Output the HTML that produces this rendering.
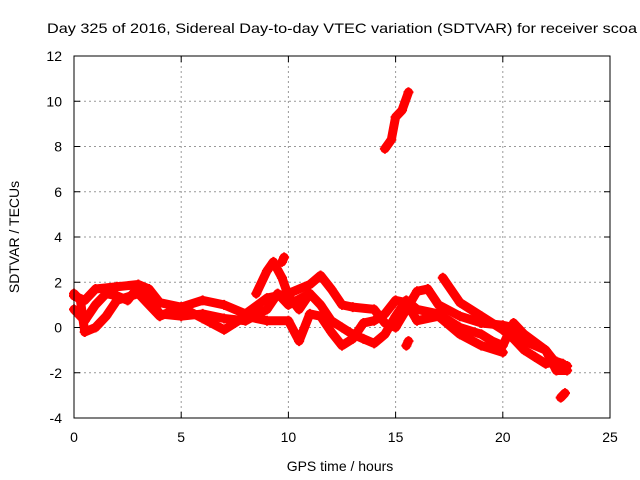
<!DOCTYPE html>
<html><head><meta charset="utf-8"><style>
html,body{margin:0;padding:0;background:#fff;overflow:hidden}
svg{display:block;font-family:"Liberation Sans",sans-serif}
</style></head><body>
<svg id="chart" width="640" height="480">
<text x="47" y="33" font-size="14" textLength="590" lengthAdjust="spacingAndGlyphs" fill="#000">Day 325 of 2016, Sidereal Day-to-day VTEC variation (SDTVAR) for receiver scoa</text>
<g id="grid"></g>
<g id="marks"></g>
<rect x="74" y="56" width="536" height="362" fill="none" stroke="#000" stroke-width="1"/>
<g id="axes"></g>
<text x="340" y="471" font-size="14" text-anchor="middle">GPS time / hours</text>
<text transform="translate(19,237) rotate(-90)" font-size="14" text-anchor="middle">SDTVAR / TECUs</text>
</svg>
<script>
const xTicks=[0,5,10,15,20,25];
const yTicks=[-4,-2,0,2,4,6,8,10,12];
const trackA=[[0,1.4],[0.5,1.2],[1,1.7],[2,1.8],[3,1.9],[3.5,1.7],[4,1.1],[5,0.9],[6,1.2],[7,1.0],[8,0.6],[9,1.3],[10,1.5],[11,1.9],[11.5,2.3],[12,1.7],[12.5,1.0],[13,0.9],[14,0.8],[14.5,0.2],[15,0],[15.5,0.8],[16,1.6],[16.5,1.7],[17,1.0],[18,0.5],[19,0.2],[20,0.1],[20.5,0],[21,-0.6],[22,-1.0],[22.5,-1.6],[23,-1.7]];
const trackB=[[0,0.8],[0.5,0.3],[1,1.0],[1.5,1.5],[2,1.4],[2.5,1.2],[3,1.8],[3.5,1.3],[4,0.6],[5,0.5],[6,0.6],[7,0.4],[8,0.3],[9,0.8],[9.5,1.5],[10,1.0],[11,1.5],[11.5,1.0],[12,0.3],[12.5,0],[13,-0.3],[13.5,-0.5],[14,-0.7],[14.5,-0.3],[15,0.5],[15.5,1.2],[16,0.8],[17,0.6],[18,0.0],[19,-0.3],[19.5,-0.6],[20,-0.8],[20.5,0.2],[21,-0.3],[22,-1.0],[22.5,-1.9],[23,-1.9]];
const trackC=[[0,1.5],[0.3,1.2],[0.5,-0.2],[1,0.0],[1.5,0.5],[2,1.2],[3,1.5],[3.5,1.0],[4,0.5],[5,0.9],[6,0.4],[7,-0.1],[8,0.5],[9,0.3],[10,0.3],[10.5,-0.6],[11,0.6],[11.5,0.5],[12,-0.2],[12.5,-0.8],[13,-0.5],[13.5,0.2],[14,0.3],[14.5,0.6],[15,1.2],[15.5,1.1],[16,0.3],[17,0.5],[18,-0.3],[19,-0.8],[20,-1.1]];
const trackD=[[8.5,1.5],[9,2.5],[9.3,2.9],[9.7,2.2],[10,1.4],[10.5,0.8],[11,1.5]];
const trackE=[[17.2,2.2],[18,1.1],[19,0.5],[20,-0.1],[20.5,-0.5],[21,-1.0],[21.5,-1.3],[22,-1.6],[22.5,-1.5],[22.8,-1.6]];
const trackF=[[14.5,7.9],[14.8,8.3],[15,9.3],[15.3,9.6],[15.6,10.4]];
const trackG=[[15.5,-0.8],[15.6,-0.6]];
const trackH=[[22.7,-3.1],[22.9,-2.9]];
const trackI=[[9.7,2.9],[9.8,3.1]];
const tracks=[trackA,trackB,trackC,trackD,trackE,trackF,trackG,trackH,trackI];
const NS="http://www.w3.org/2000/svg";
const X=h=>74+h*536/25, Y=v=>56+(12-v)*362/16;
const grid=document.getElementById('grid'),axes=document.getElementById('axes'),marks=document.getElementById('marks');
function mk(t,a,p){const e=document.createElementNS(NS,t);for(const k in a)e.setAttribute(k,a[k]);p.appendChild(e);return e;}
xTicks.forEach(t=>{const x=X(t);
 if(t>0&&t<25){const g=mk('line',{x1:x,y1:56,x2:x,y2:418,stroke:'#999','stroke-dasharray':'2,3'},grid);
 
 }
 mk('line',{x1:x,y1:418,x2:x,y2:412,stroke:'#000'},axes);mk('line',{x1:x,y1:56,x2:x,y2:62,stroke:'#000'},axes);
 const l=mk('text',{x:x,y:442,'font-size':14,'text-anchor':'middle'},axes);l.textContent=t;
 
 });
yTicks.forEach(t=>{const y=Y(t);
 if(t>-4&&t<12){const g=mk('line',{x1:74,y1:y,x2:610,y2:y,stroke:'#999','stroke-dasharray':'2,3'},grid);
 
 }
 mk('line',{x1:74,y1:y,x2:80,y2:y,stroke:'#000'},axes);mk('line',{x1:610,y1:y,x2:604,y2:y,stroke:'#000'},axes);
 const l=mk('text',{x:62,y:y+5,'font-size':14,'text-anchor':'end'},axes);l.textContent=t;
 
 });
tracks.forEach((tr,i)=>{
 const p=mk('polyline',{points:tr.map(d=>X(d[0])+','+Y(d[1])).join(' '),fill:'none',stroke:'#ff0000','stroke-width':9,'stroke-linejoin':'round','stroke-linecap':'round'},marks);
 
 
 tr.forEach(d=>{const x=X(d[0]),y=Y(d[1]);
  const m=mk('path',{d:`M${x-5},${y}H${x+5}M${x},${y-5}V${y+5}`,stroke:'#ff0000','stroke-width':2},marks);
  
  });
});
</script>
</body></html>
